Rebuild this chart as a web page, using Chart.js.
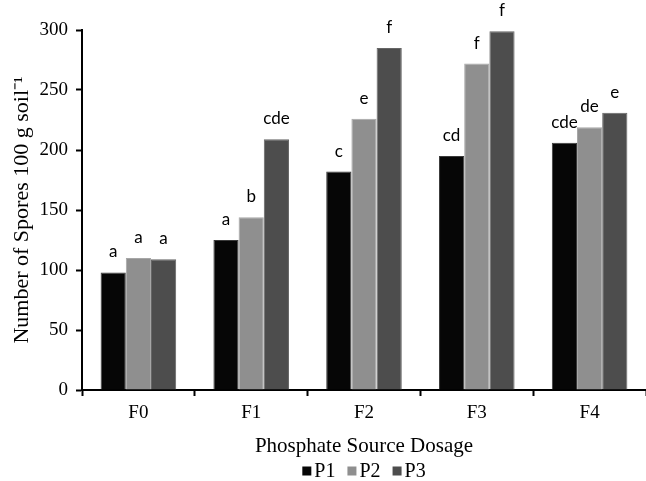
<!DOCTYPE html>
<html>
<head>
<meta charset="utf-8">
<script src="https://cdn.jsdelivr.net/npm/chart.js@4/dist/chart.umd.min.js"></script>
<style>
html,body{margin:0;padding:0;background:#fff;}
#wrap{width:646px;height:481px;}
</style>
</head>
<body>
<div id="wrap"><canvas id="c" width="646" height="481"></canvas></div>
<script>
const categories = ["F0", "F1", "F2", "F3", "F4"];
const seriesNames = ["P1", "P2", "P3"];
const p1Values = [98, 125, 182, 195, 206];
const p2Values = [110, 144, 226, 272, 219];
const p3Values = [109, 209, 285, 299, 231];
const p1Letters = ["a", "a", "c", "cd", "cde"];
const p2Letters = ["a", "b", "e", "f", "de"];
const p3Letters = ["a", "cde", "f", "f", "e"];
const yTicks = [0, 50, 100, 150, 200, 250, 300];

const colors = ["#060606", "#8f8f8f", "#4d4d4d"];
const borders = ["#3a3a3a", "#a6a6a6", "#666666"];
const letters = [p1Letters, p2Letters, p3Letters];
const serif = "'Liberation Serif', 'Times New Roman', serif";

const letterPlugin = {
  id: "letters",
  afterDatasetsDraw(chart) {
    const ctx = chart.ctx;
    ctx.save();
    ctx.font = "17px Lato, 'Open Sans', sans-serif";
    ctx.fillStyle = "#000";
    ctx.textAlign = "center";
    ctx.textBaseline = "alphabetic";
    chart.data.datasets.forEach((ds, i) => {
      const meta = chart.getDatasetMeta(i);
      meta.data.forEach((bar, j) => {
        ctx.fillText(letters[i][j], bar.x, bar.y - 15);
      });
    });
    ctx.restore();
  }
};

const legendPlugin = {
  id: "customLegend",
  afterDraw(chart) {
    const ctx = chart.ctx;
    const area = chart.chartArea;
    ctx.save();
    ctx.font = "20px " + serif;
    ctx.textBaseline = "middle";
    ctx.textAlign = "left";
    const box = 9, gap = 3, itemGap = 12;
    const items = chart.data.datasets.map(ds => ({ label: ds.label, color: ds.backgroundColor, w: box + gap + ctx.measureText(ds.label).width }));
    const total = items.reduce((s, it) => s + it.w, 0) + itemGap * (items.length - 1);
    let x = (area.left + area.right) / 2 - total / 2;
    const y = chart.height - 9;
    items.forEach(it => {
      ctx.fillStyle = it.color;
      ctx.fillRect(x, y - box / 2 - 1, box, box);
      ctx.fillStyle = "#000";
      ctx.fillText(it.label, x + box + gap, y);
      x += it.w + itemGap;
    });
    ctx.restore();
  }
};

new Chart(document.getElementById("c"), {
  type: "bar",
  data: {
    labels: categories,
    datasets: [
      { label: seriesNames[0], data: p1Values, backgroundColor: colors[0], borderColor: borders[0], borderWidth: 1 },
      { label: seriesNames[1], data: p2Values, backgroundColor: colors[1], borderColor: borders[1], borderWidth: 1 },
      { label: seriesNames[2], data: p3Values, backgroundColor: colors[2], borderColor: borders[2], borderWidth: 1 }
    ]
  },
  options: {
    responsive: false,
    animation: false,
    devicePixelRatio: 1,
    categoryPercentage: 0.67,
    barPercentage: 1.0,
    layout: { padding: { top: 30, right: 0, left: 0, bottom: 22 } },
    plugins: {
      tooltip: { enabled: false },
      legend: { display: false }
    },
    scales: {
      x: {
        grid: { display: true, drawOnChartArea: false, drawTicks: true, tickLength: 6, color: "#000", offset: true, tickWidth: 2 },
        border: { display: true, color: "#000", width: 2 },
        ticks: { color: "#000", font: { family: serif, size: 19 }, padding: 6 },
        title: { display: true, text: "Phosphate Source Dosage", color: "#000", font: { family: serif, size: 21 }, padding: { top: 13, bottom: 0 } },
        afterFit(scale) { scale.height = 481 - 22 - 390; }
      },
      y: {
        min: 0, max: 300,
        afterBuildTicks(scale) { scale.ticks = yTicks.map(v => ({ value: v })); },
        grid: { display: true, drawOnChartArea: false, drawTicks: true, tickLength: 6, color: "#000", tickWidth: 2 },
        border: { display: true, color: "#000", width: 2 },
        ticks: { color: "#000", font: { family: serif, size: 19 }, padding: 8 },
        title: { display: true, text: "Number of Spores 100 g soil\u207B\u00B9", color: "#000", font: { family: serif, size: 22 }, padding: { top: 9, bottom: 4 } },
        afterFit(scale) { scale.width = 82; }
      }
    }
  },
  plugins: [letterPlugin, legendPlugin]
});
</script>
</body>
</html>
